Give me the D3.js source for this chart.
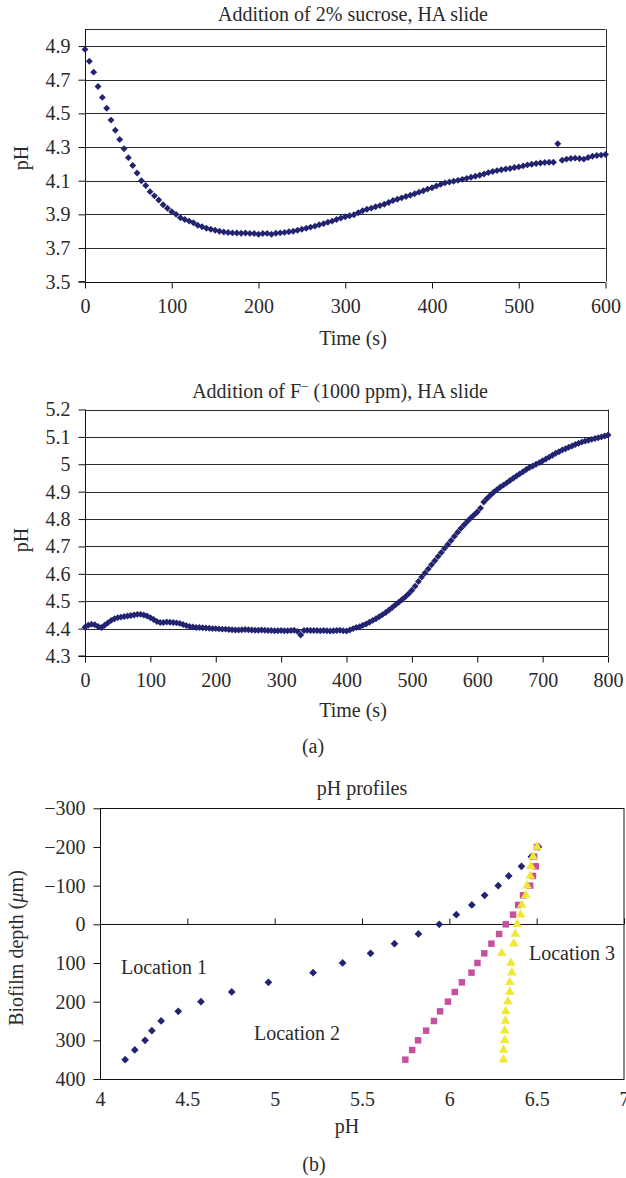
<!DOCTYPE html>
<html>
<head>
<meta charset="utf-8">
<script src="https://cdn.jsdelivr.net/npm/d3@7"></script>
<style>
  body { margin: 0; background: #fff; }
  text { font-family: "Liberation Serif", "Times New Roman", serif; fill: #2a2a2a; }
</style>
</head>
<body>
<div class="content"></div>
<script>
// ---- data ----
var sucroseStep = 5; // seconds between readings
var sucrosePH = [4.88,4.81,4.745,4.66,4.595,4.53,4.46,4.40,4.345,4.29,4.237,4.19,4.146,4.10,4.072,4.035,4.01,3.985,3.957,3.936,
  3.916,3.90,3.88,3.87,3.86,3.85,3.835,3.826,3.818,3.812,3.806,3.80,3.795,3.792,3.79,3.789,3.788,3.789,3.787,3.786,
  3.782,3.786,3.787,3.782,3.788,3.79,3.793,3.797,3.80,3.806,3.812,3.818,3.824,3.83,3.838,3.845,3.853,3.86,3.87,3.878,
  3.886,3.892,3.898,3.91,3.922,3.93,3.937,3.945,3.952,3.96,3.97,3.982,3.99,3.998,4.006,4.014,4.022,4.032,4.04,4.05,
  4.058,4.068,4.078,4.087,4.092,4.097,4.102,4.108,4.114,4.12,4.126,4.132,4.14,4.148,4.155,4.16,4.165,4.17,4.173,4.178,
  4.182,4.188,4.194,4.198,4.202,4.205,4.208,4.21,4.21,4.32,4.222,4.228,4.232,4.234,4.232,4.228,4.238,4.245,4.25,4.252,
  4.256];

var fluorideStep = 5;
var fluoridePH = [4.405,4.412,4.416,4.414,4.408,4.404,4.412,4.421,4.43,4.436,4.44,4.442,4.444,4.446,4.448,4.45,4.452,4.452,4.45,4.446,
  4.44,4.433,4.426,4.422,4.422,4.424,4.423,4.422,4.421,4.419,4.415,4.411,4.408,4.406,4.404,4.404,4.403,4.402,4.401,4.4,
  4.4,4.399,4.398,4.398,4.397,4.396,4.395,4.395,4.396,4.397,4.396,4.395,4.394,4.394,4.395,4.394,4.393,4.393,4.392,4.392,
  4.393,4.392,4.392,4.393,4.394,4.39,4.377,4.393,4.394,4.393,4.393,4.393,4.392,4.393,4.392,4.391,4.392,4.393,4.394,4.392,
  4.391,4.395,4.4,4.404,4.407,4.412,4.417,4.423,4.43,4.436,4.443,4.451,4.459,4.468,4.477,4.487,4.496,4.506,4.516,4.527,
  4.54,4.555,4.572,4.588,4.603,4.618,4.633,4.648,4.663,4.678,4.693,4.707,4.722,4.737,4.752,4.766,4.779,4.792,4.804,4.815,
  4.826,4.84,4.862,4.875,4.887,4.898,4.907,4.916,4.924,4.932,4.941,4.949,4.957,4.965,4.973,4.981,4.988,4.994,5.0,5.006,
  5.013,5.019,5.026,5.033,5.04,5.046,5.052,5.057,5.062,5.067,5.072,5.077,5.081,5.085,5.088,5.091,5.094,5.097,5.1,5.103,
  5.107];

var depths = [-200,-175,-150,-125,-100,-75,-50,-25,0,25,50,75,100,125,150,175,200,225,250,275,300,325,350];
var loc1PH = [6.51,6.47,6.413,6.34,6.28,6.202,6.129,6.04,5.942,5.823,5.686,5.549,5.389,5.22,4.964,4.754,4.578,4.448,4.35,4.297,4.258,4.199,4.144];
var loc2PH = [6.502,6.486,6.495,6.479,6.463,6.422,6.394,6.365,6.323,6.285,6.241,6.2,6.161,6.127,6.072,6.031,5.992,5.947,5.912,5.867,5.821,5.787,5.748];
var loc3PH = [6.502,6.479,6.467,6.463,6.445,6.438,6.415,6.408,6.388,6.378,6.369,6.3,6.353,6.358,6.346,6.346,6.335,6.323,6.321,6.317,6.317,6.31,6.31];

var sucroseTicks = [3.5,3.7,3.9,4.1,4.3,4.5,4.7,4.9];
var fluorideTicks = [4.3,4.4,4.5,4.6,4.7,4.8,4.9,5.0,5.1,5.2];
var depthTicks = [-300,-200,-100,0,100,200,300,400];
var profileTicks = [4,4.5,5,5.5,6,6.5,7];

var navy = "#222471", pink = "#c4509e", yellow = "#f0e835";

var svg = d3.select(".content").append("svg")
  .attr("width", 626).attr("height", 1178);

function num(d) { return String(+d.toFixed(1)); }

// draws one time-series panel
function timePanel(opt) {
  var x = d3.scaleLinear().domain(opt.xDomain).range(opt.xRange);
  var y = d3.scaleLinear().domain(opt.yDomain).range(opt.yRange);
  var g = svg.append("g");

  // gridlines
  g.append("g").selectAll("line")
    .data(opt.grid).enter().append("line")
    .attr("x1", x.range()[0]).attr("x2", x.range()[1])
    .attr("y1", d => Math.round(y(d)) + 0.5).attr("y2", d => Math.round(y(d)) + 0.5)
    .attr("stroke", "#2b2b2b").attr("stroke-width", 1);

  // right border
  g.append("line")
    .attr("x1", Math.round(x.range()[1]) + 0.5).attr("x2", Math.round(x.range()[1]) + 0.5)
    .attr("y1", y.range()[0]).attr("y2", y.range()[1])
    .attr("stroke", "#2b2b2b");

  var yAxis = g.append("g")
    .attr("transform", "translate(" + (Math.round(x.range()[0]) + 0.5) + ",0)")
    .call(d3.axisLeft(y).tickValues(opt.yTicks).tickFormat(opt.yFormat).tickSize(7).tickPadding(8));
  var xAxis = g.append("g")
    .attr("transform", "translate(0," + (Math.round(y.range()[0]) + 0.5) + ")")
    .call(d3.axisBottom(x).ticks(opt.xTickCount).tickSize(6).tickPadding(10));
  [yAxis, xAxis].forEach(function(a) {
    a.selectAll("text").style("font-size", "20px").attr("fill", "#2a2a2a");
    a.selectAll("line, path").attr("stroke", "#111");
  });
  yAxis.select(".domain").attr("d", "M-7," + y.range()[0] + "H0V" + y.range()[1]);
  xAxis.select(".domain").attr("d", "M" + x.range()[0] + ",0H" + x.range()[1]);

  g.append("g").selectAll("path")
    .data(opt.values).enter().append("path")
    .attr("d", d3.symbol(d3.symbolSquare, opt.markerSize))
    .attr("transform", (d, i) => "translate(" + x(i * opt.step) + "," + y(d) + ") rotate(45)")
    .attr("fill", navy);

  g.append("text").attr("x", opt.titlePos[0]).attr("y", opt.titlePos[1])
    .attr("text-anchor", "middle").style("font-size", "20px").call(opt.title);
  g.append("text").attr("x", opt.xLabelPos[0]).attr("y", opt.xLabelPos[1])
    .attr("text-anchor", "middle").style("font-size", "20px").text("Time (s)");
  g.append("text").attr("transform", "translate(" + opt.yLabelPos[0] + "," + opt.yLabelPos[1] + ") rotate(-90)")
    .attr("text-anchor", "middle").style("font-size", "20px").text("pH");
}

timePanel({
  xDomain: [0, 600], xRange: [85, 605.5],
  yDomain: [3.5, 5.0], yRange: [281.7, 29.2],
  grid: [3.7, 3.9, 4.1, 4.3, 4.5, 4.7, 4.9, 5.0],
  yTicks: sucroseTicks, yFormat: d3.format(".1f"), xTickCount: 6,
  values: sucrosePH, step: sucroseStep, markerSize: 24,
  title: t => t.text("Addition of 2% sucrose, HA slide"),
  titlePos: [353, 21], xLabelPos: [353, 345], yLabelPos: [28, 158]
});

timePanel({
  xDomain: [0, 800], xRange: [85, 608],
  yDomain: [4.3, 5.2], yRange: [656, 409.5],
  grid: [4.4, 4.5, 4.6, 4.7, 4.8, 4.9, 5.0, 5.1, 5.2],
  yTicks: fluorideTicks, yFormat: num, xTickCount: 8,
  values: fluoridePH, step: fluorideStep, markerSize: 24,
  title: function(t) {
    t.append("tspan").text("Addition of F");
    t.append("tspan").attr("dy", -7).style("font-size", "13px").text("\u2212");
    t.append("tspan").attr("dy", 7).text(" (1000 ppm), HA slide");
  },
  titlePos: [340, 398], xLabelPos: [353, 717], yLabelPos: [28, 540]
});

svg.append("text").attr("x", 313).attr("y", 753).attr("text-anchor", "middle")
  .style("font-size", "20px").text("(a)");

// ---- pH profiles panel ----
var px = d3.scaleLinear().domain([4, 7]).range([100, 624]);
var py = d3.scaleLinear().domain([-300, 400]).range([808.3, 1079]);
var pg = svg.append("g");

pg.append("rect")
  .attr("x", 100.5).attr("y", Math.round(py(-300)) + 0.5)
  .attr("width", 523.5).attr("height", Math.round(py(400)) - Math.round(py(-300)))
  .attr("fill", "none").attr("stroke", "#111");

var pyAxis = pg.append("g").attr("transform", "translate(100.5,0)")
  .call(d3.axisLeft(py).tickValues(depthTicks).tickSize(7).tickPadding(8));
var pxLabels = pg.append("g").attr("transform", "translate(0," + (Math.round(py(400)) + 0.5) + ")")
  .call(d3.axisBottom(px).tickValues(profileTicks).tickFormat(num).tickSize(0).tickPadding(12));
var pxZero = pg.append("g").attr("transform", "translate(0," + (Math.round(py(0)) + 0.5) + ")")
  .call(d3.axisTop(px).tickValues(profileTicks).tickFormat("").tickSize(6));
[pyAxis, pxLabels, pxZero].forEach(function(a) {
  a.selectAll("text").style("font-size", "20px").attr("fill", "#2a2a2a");
  a.selectAll("line, path").attr("stroke", "#111");
});
pxLabels.select(".domain").remove();
pxZero.select(".domain").attr("d", "M100,0H624");
pyAxis.select(".domain").remove();

pg.append("g").selectAll("path").data(loc1PH).enter().append("path")
  .attr("d", d3.symbol(d3.symbolSquare, 30))
  .attr("transform", (d, i) => "translate(" + px(d) + "," + py(depths[i]) + ") rotate(45)")
  .attr("fill", navy);
pg.append("g").selectAll("path").data(loc2PH).enter().append("path")
  .attr("d", d3.symbol(d3.symbolSquare, 42))
  .attr("transform", (d, i) => "translate(" + px(d) + "," + py(depths[i]) + ")")
  .attr("fill", pink);
pg.append("g").selectAll("path").data(loc3PH).enter().append("path")
  .attr("d", d3.symbol(d3.symbolTriangle, 40))
  .attr("transform", (d, i) => "translate(" + px(d) + "," + py(depths[i]) + ")")
  .attr("fill", yellow);

pg.append("text").attr("x", 362).attr("y", 795).attr("text-anchor", "middle")
  .style("font-size", "20px").text("pH profiles");
pg.append("text").attr("x", 347).attr("y", 1133).attr("text-anchor", "middle")
  .style("font-size", "20px").text("pH");
var yl = pg.append("text").attr("transform", "translate(23,948) rotate(-90)")
  .attr("text-anchor", "middle").style("font-size", "20px");
yl.append("tspan").text("Biofilm depth (");
yl.append("tspan").style("font-style", "italic").text("\u03bc");
yl.append("tspan").text("m)");

pg.append("text").attr("x", 121).attr("y", 974).style("font-size", "20px").text("Location 1");
pg.append("text").attr("x", 254).attr("y", 1040).style("font-size", "20px").text("Location 2");
pg.append("text").attr("x", 529).attr("y", 960).style("font-size", "20px").text("Location 3");

svg.append("text").attr("x", 314).attr("y", 1171).attr("text-anchor", "middle")
  .style("font-size", "20px").text("(b)");
</script>
</body>
</html>
